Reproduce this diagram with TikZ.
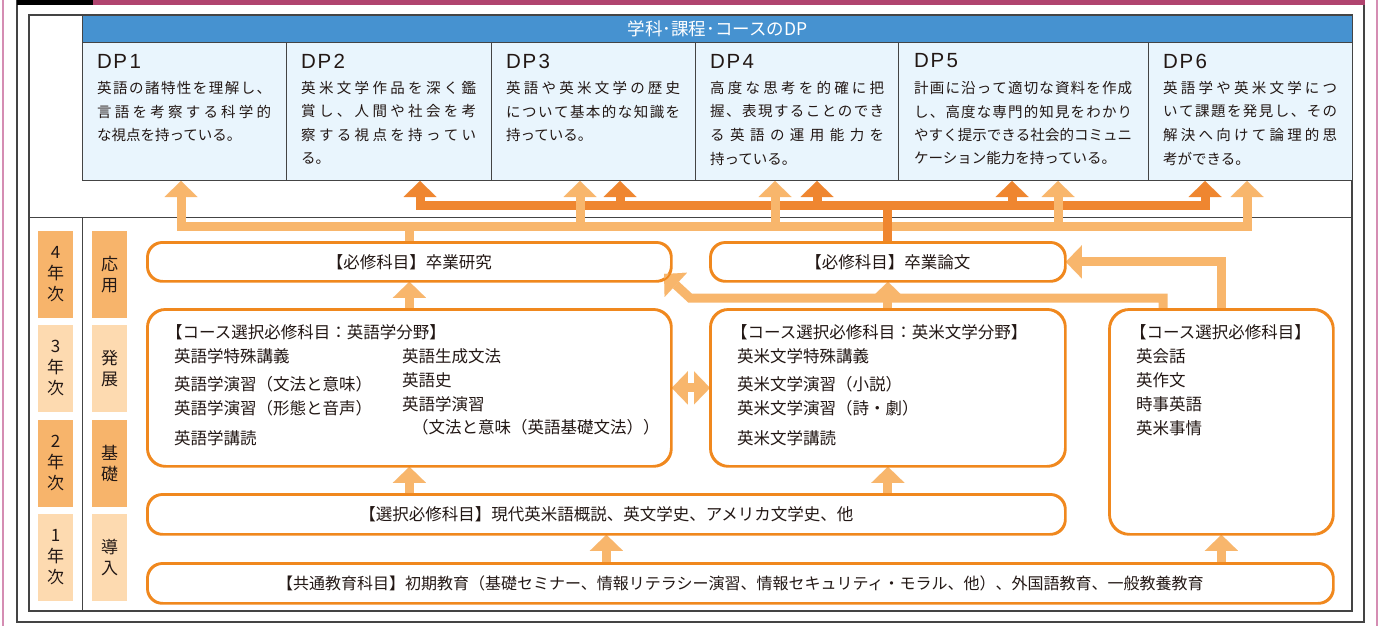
\documentclass[tikz,border=0pt]{standalone}
\usepackage{fontspec}
\setmainfont{Noto Sans CJK JP}
\newfontfamily\latinf{Liberation Sans}
\usetikzlibrary{arrows.meta,calc}
\definecolor{blueH}{HTML}{4692D0}
\definecolor{dpfill}{HTML}{E9F5FD}
\definecolor{boxor}{HTML}{F0881E}
\definecolor{lor}{HTML}{F8B66C}
\definecolor{dor}{HTML}{EF8630}
\definecolor{ydark}{HTML}{F7B46B}
\definecolor{ylight}{HTML}{FDDAB0}
\definecolor{pinkc}{HTML}{D58DB3}
\definecolor{magc}{HTML}{B0446F}
\definecolor{framec}{HTML}{444444}
\definecolor{txt}{HTML}{231815}
\makeatletter
\def\spr#1#2{\makebox[#1][s]{\spr@a#2\spr@end}}
\def\spr@end{\spr@end}
\def\spr@a#1{#1\futurelet\spr@next\spr@b}
\def\spr@b{\ifx\spr@next\spr@end\expandafter\@gobble\else\hskip0pt plus1fil\relax\expandafter\spr@a\fi}
\makeatother
\tikzset{
  dpcell/.style={draw=framec, line width=1pt, fill=dpfill, anchor=north west, inner sep=0pt, minimum height=138pt},
  dptitle/.style={anchor=west, inner sep=0pt, text=txt, font=\latinf\fontsize{20.5}{22}\selectfont},
  dpt/.style={anchor=west, inner sep=0pt, text=txt, font=\fontsize{14.5}{17}\selectfont},
  yrbox/.style={minimum width=35pt, minimum height=87pt, inner sep=0pt, align=center, text=txt, font=\fontsize{17}{21}\selectfont},
  flowbox/.style={draw=boxor, line width=1.8pt, fill=white, anchor=north west, inner sep=0pt, rounded corners=15pt, text=txt, font=\fontsize{16.5}{20}\selectfont},
  bt/.style={anchor=west, inner sep=0pt, text=txt, font=\fontsize{16.5}{20}\selectfont},
  tipL/.tip={Triangle[width=33pt,length=16pt,line width=0.01pt]},
  lline/.style={draw=lor, line width=9pt, line join=miter},
  larrow/.style={lline, -tipL},
  ldouble/.style={lline, tipL-tipL},
  dline/.style={draw=dor, line width=9pt, line join=miter},
  darrow/.style={dline, -tipL},
  ddouble/.style={dline, tipL-tipL}
}
\begin{document}
\begin{tikzpicture}[x=1pt,y=-1pt]
\useasboundingbox (0,0) rectangle (1380,626);
\fill[white] (0,0) rectangle (1380,626);
% outer frame
\draw[pinkc, line width=1.5pt] (3,0) -- (3,626);
\draw[pinkc, line width=1.5pt] (1377,0) -- (1377,626);
\draw[framec, line width=1.8pt] (17,0) -- (17,622) -- (1364,622) -- (1364,0);
\fill[black] (17,0) rectangle (93,5);
\fill[magc] (93,0) rectangle (1365,5);
\draw[framec, line width=1.2pt] (29,15) rectangle (1352,611);
\draw[framec, line width=1pt] (29,217) -- (1352,217);
\draw[framec, line width=1pt] (82,217) -- (82,611);
% header
\node[fill=blueH, draw=framec, line width=1pt, anchor=north west, inner sep=0pt, minimum width=1270pt, minimum height=27pt] (hdr) at (82,15) {};
\node[text=white, inner sep=0pt, font=\fontsize{17.5}{20}\selectfont] (hdrT) at (hdr.center) {学科･課程･コースのDP};
% DP cells
\node[dpcell, minimum width=204pt] (dp1) at (82,42) {};
\node[dpcell, minimum width=205pt] (dp2) at (286,42) {};
\node[dpcell, minimum width=204pt] (dp3) at (491,42) {};
\node[dpcell, minimum width=203pt] (dp4) at (695,42) {};
\node[dpcell, minimum width=250pt] (dp5) at (898,42) {};
\node[dpcell, minimum width=204pt] (dp6) at (1148,42) {};
\node[dptitle] (dp1h) at (97,61) {D\kern1.5pt P\kern2.5pt 1};
\node[dptitle] (dp2h) at (301,61) {D\kern1.5pt P\kern2.5pt 2};
\node[dptitle] (dp3h) at (506,61) {D\kern1.5pt P\kern2.5pt 3};
\node[dptitle] (dp4h) at (710,61) {D\kern1.5pt P\kern2.5pt 4};
\node[dptitle] (dp5h) at (914,61) {D\kern1.5pt P\kern2.5pt 5};
\node[dptitle] (dp6h) at (1163,61) {D\kern1.5pt P\kern2.5pt 6};
% DP1
\node[dpt] (dp1a) at (97,88) {\spr{174pt}{英語の諸特性を理解し、}};
\node[dpt] (dp1b) at (97,111.5) {\spr{174pt}{言語を考察する科学的}};
\node[dpt] (dp1c) at (97,135) {な視点を持っている。};
% DP2
\node[dpt] (dp2a) at (301,88) {\spr{175pt}{英米文学作品を深く鑑}};
\node[dpt] (dp2b) at (301,111.5) {\spr{175pt}{賞し、人間や社会を考}};
\node[dpt] (dp2c) at (301,135) {\spr{175pt}{察する視点を持ってい}};
\node[dpt] (dp2d) at (301,158.5) {る。};
% DP3
\node[dpt] (dp3a) at (506,88) {\spr{174pt}{英語や英米文学の歴史}};
\node[dpt] (dp3b) at (506,111.5) {\spr{174pt}{について基本的な知識を}};
\node[dpt] (dp3c) at (506,135) {持っている。};
% DP4
\node[dpt] (dp4a) at (710,88) {\spr{174pt}{高度な思考を的確に把}};
\node[dpt] (dp4b) at (710,111.5) {\spr{174pt}{握、表現することのでき}};
\node[dpt] (dp4c) at (710,135) {\spr{174pt}{る英語の運用能力を}};
\node[dpt] (dp4d) at (710,158.5) {持っている。};
% DP5
\node[dpt] (dp5a) at (914,88) {\spr{218pt}{計画に沿って適切な資料を作成}};
\node[dpt] (dp5b) at (914,111.5) {\spr{218pt}{し、高度な専門的知見をわかり}};
\node[dpt] (dp5c) at (914,135) {\spr{218pt}{やすく提示できる社会的コミュニ}};
\node[dpt] (dp5d) at (914,158.5) {ケーション能力を持っている。};
% DP6
\node[dpt] (dp6a) at (1163,88) {\spr{174pt}{英語学や英米文学につ}};
\node[dpt] (dp6b) at (1163,111.5) {\spr{174pt}{いて課題を発見し、その}};
\node[dpt] (dp6c) at (1163,135) {\spr{174pt}{解決へ向けて論理的思}};
\node[dpt] (dp6d) at (1163,158.5) {考ができる。};
% year / stage columns
\node[yrbox, fill=ydark] (y4) at (55.5,274.5) {4\\年\\次};
\node[yrbox, fill=ylight] (y3) at (55.5,368.5) {3\\年\\次};
\node[yrbox, fill=ydark] (y2) at (55.5,463.5) {2\\年\\次};
\node[yrbox, fill=ylight] (y1) at (55.5,557.5) {1\\年\\次};
\node[yrbox, fill=ydark] (s4) at (109.5,274.5) {応\\用};
\node[yrbox, fill=ylight] (s3) at (109.5,368.5) {発\\展};
\node[yrbox, fill=ydark] (s2) at (109.5,463.5) {基\\礎};
\node[yrbox, fill=ylight] (s1) at (109.5,557.5) {導\\入};
% coordinates of the busses
\coordinate (lb1) at (181,226);
\coordinate (lb3) at (580,226);
\coordinate (lb4) at (775,226);
\coordinate (lb5) at (1058,226);
\coordinate (lb6) at (1247,226);
\coordinate (db2) at (420,205);
\coordinate (db3) at (620,205);
\coordinate (db4) at (817,205);
\coordinate (db5) at (1012,205);
\coordinate (db6) at (1205,205);
% flow boxes
\path (147,242) node[flowbox, minimum width=523pt, minimum height=38pt] (kenkyu) {【必修科目】卒業研究};
\path (710,242) node[flowbox, minimum width=354pt, minimum height=38pt] (ronbun) {【必修科目】卒業論文};
\path (147,309) node[flowbox, rounded corners=18pt, minimum width=523pt, minimum height=156pt] (eigo) {};
\path (710,309) node[flowbox, rounded corners=18pt, minimum width=354pt, minimum height=156pt] (beibun) {};
\path (1109,309) node[flowbox, rounded corners=20pt, minimum width=223pt, minimum height=224pt] (course) {};
\path (147,494) node[flowbox, minimum width=917pt, minimum height=39pt] (sentaku) {【選択必修科目】現代英米語概説、英文学史、アメリカ文学史、他};
\path (147,563) node[flowbox, minimum width=1185pt, minimum height=39pt, font=\fontsize{16}{20}\selectfont] (kyotsu) {【共通教育科目】初期教育（基礎セミナー、情報リテラシー演習、情報セキュリティ・モラル、他）、外国語教育、一般教養教育};
% dark bus
\draw[ddouble] (db2 |- dp2.south) -- (db2) -- (db6) -- (db6 |- dp6.south);
\draw[darrow] (db3) -- (db3 |- dp3.south);
\draw[darrow] (db4) -- (db4 |- dp4.south);
\draw[darrow] (db5) -- (db5 |- dp5.south);
% light bus
\draw[ldouble] (lb1 |- dp1.south) -- (lb1) -- (lb6) -- (lb6 |- dp6.south);
\draw[larrow] (lb3) -- (lb3 |- dp3.south);
\draw[larrow] (lb4) -- (lb4 |- dp4.south);
\draw[larrow] (lb5) -- (lb5 |- dp5.south);
\draw[lline] (kenkyu.north) -- (kenkyu.north |- lb1);
\draw[dline] (ronbun.north) -- (ronbun.north |- db2);
% arrows between rows
\draw[larrow] (eigo.north) -- (kenkyu.south);
\draw[larrow] (beibun.north) -- (ronbun.south);
\draw[larrow] (sentaku.north -| eigo.south) -- (eigo.south);
\draw[larrow] (sentaku.north -| beibun.south) -- (beibun.south);
\draw[larrow] (kyotsu.north -| sentaku.south) -- (sentaku.south);
\draw[larrow] (kyotsu.north -| course.south) -- (course.south);
\draw[larrow] (course.north) |- (ronbun.east);
\coordinate (c2a) at (1163,309);
\coordinate (c2b) at (1163,298);
\coordinate (c2c) at (690,298);
\coordinate (ktip) at (664,274);
\draw[larrow] (c2a) -- (c2b) -- (c2c) -- (ktip);
\draw[ldouble] (eigo.east) -- (beibun.west);
% redraw box borders on top of arrow ends
\draw[draw=boxor, line width=1.8pt, rounded corners=15pt] (kenkyu.north west) rectangle (kenkyu.south east);
\draw[draw=boxor, line width=1.8pt, rounded corners=15pt] (ronbun.north west) rectangle (ronbun.south east);
\draw[draw=boxor, line width=1.8pt, rounded corners=18pt] (eigo.north west) rectangle (eigo.south east);
\draw[draw=boxor, line width=1.8pt, rounded corners=18pt] (beibun.north west) rectangle (beibun.south east);
\draw[draw=boxor, line width=1.8pt, rounded corners=20pt] (course.north west) rectangle (course.south east);
\draw[draw=boxor, line width=1.8pt, rounded corners=15pt] (sentaku.north west) rectangle (sentaku.south east);
\draw[draw=boxor, line width=1.8pt, rounded corners=15pt] (kyotsu.north west) rectangle (kyotsu.south east);
% texts of the English linguistics box
\node[bt] (e0) at (166,332) {【コース選択必修科目：英語学分野】};
\node[bt] (e1) at (174,356) {英語学特殊講義};
\node[bt] (e2) at (174,384) {英語学演習（文法と意味）};
\node[bt] (e3) at (174,408) {英語学演習（形態と音声）};
\node[bt] (e4) at (174,438) {英語学講読};
\node[bt] (e5) at (402,356) {英語生成文法};
\node[bt] (e6) at (402,380) {英語史};
\node[bt] (e7) at (402,404) {英語学演習};
\node[bt] (e8) at (412,427) {（文法と意味（英語基礎文法））};
% texts of the literature box
\node[bt] (b0) at (731,332) {【コース選択必修科目：英米文学分野】};
\node[bt] (b1) at (737,356) {英米文学特殊講義};
\node[bt] (b2) at (737,384) {英米文学演習（小説）};
\node[bt] (b3) at (737,408) {英米文学演習（詩・劇）};
\node[bt] (b4) at (737,438) {英米文学講読};
% texts of the course box
\node[bt] (c0) at (1130,332) {【コース選択必修科目】};
\node[bt] (c1) at (1136,356) {英会話};
\node[bt] (c3) at (1136,380) {英作文};
\node[bt] (c4) at (1136,404) {時事英語};
\node[bt] (c5) at (1136,428) {英米事情};
\end{tikzpicture}
\end{document}
